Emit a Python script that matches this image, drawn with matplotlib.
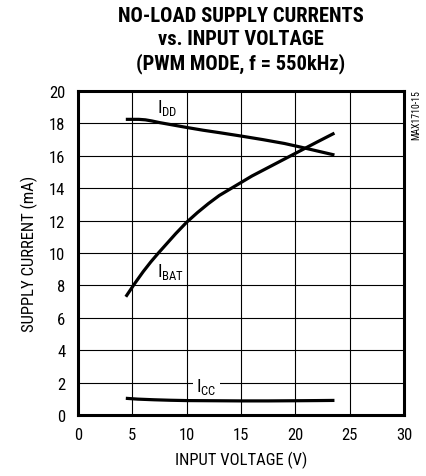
import matplotlib
matplotlib.use("Agg")
import matplotlib.pyplot as plt
from matplotlib import font_manager

# pick a condensed / narrow sans family if one is installed
fam, stretch = 'Liberation Sans', 'normal'
cands = []
for f in font_manager.fontManager.ttflist:
    n = f.name.lower()
    fn = f.fname.lower()
    st = str(f.stretch).lower()
    if 'narrow' in n or 'condensed' in n or 'condensed' in st or 'narrow' in fn or 'condensed' in fn:
        cands.append(f)
pref = ['liberation sans narrow', 'roboto condensed', 'dejavu sans']
chosen = None
for p in pref:
    for f in cands:
        if f.name.lower() == p:
            chosen = f
            break
    if chosen:
        break
if chosen is None and cands:
    chosen = cands[0]
if chosen is not None:
    fam = chosen.name
    stretch = 'condensed' if ('condensed' in str(chosen.stretch).lower() or 'condensed' in chosen.fname.lower()) else 'normal'
plt.rcParams['font.family'] = [fam, 'DejaVu Sans']
plt.rcParams['font.stretch'] = stretch

# Data
vin_idd = [4.4, 5.0, 5.6, 6.2, 6.8, 7.5, 8.5, 10, 11.5, 13, 15, 17, 19, 20.6, 22, 23.6]
idd = [18.25, 18.25, 18.25, 18.22, 18.15, 18.05, 17.93, 17.75, 17.58, 17.43, 17.22, 17.0, 16.76, 16.52, 16.3, 16.05]

vin_ibat = [4.4, 5.2, 6.0, 6.7, 7.4, 8.2, 9.0, 10, 11, 12, 13, 14, 15, 16, 17, 18, 19, 20, 21, 22, 23.6]
ibat = [7.3, 8.1, 8.85, 9.45, 10.0, 10.6, 11.2, 11.9, 12.5, 13.05, 13.55, 13.95, 14.35, 14.75, 15.1, 15.45, 15.8, 16.15, 16.5, 16.85, 17.4]

vin_icc = [4.4, 5.5, 7, 8.5, 10, 12.5, 15, 17.5, 20, 22, 23.6]
icc = [1.03, 0.98, 0.94, 0.91, 0.89, 0.88, 0.87, 0.87, 0.88, 0.89, 0.9]

xticks = [0, 5, 10, 15, 20, 25, 30]
yticks = [0, 2, 4, 6, 8, 10, 12, 14, 16, 18, 20]

fig = plt.figure(figsize=(4.27, 4.77), dpi=100)
ax = fig.add_axes([78/427, 1-416/477, (404-78)/427, (416-92)/477])

for xs, ys in ((vin_idd, idd), (vin_ibat, ibat), (vin_icc, icc)):
    ax.plot(xs, ys, color='black', lw=2.3, solid_capstyle='butt', solid_joinstyle='round', zorder=3)

ax.set_xlim(0, 30)
ax.set_ylim(0, 20)
ax.set_xticks(xticks)
ax.set_yticks(yticks)
ax.set_xticklabels([str(t) for t in xticks], fontsize=12)
ax.set_yticklabels([str(t) for t in yticks], fontsize=12)
ax.tick_params(length=0, pad=9)
ax.grid(True, color='black', lw=0.8)
ax.set_axisbelow(True)
for s in ax.spines.values():
    s.set_linewidth(2.2)

ax.set_xlabel('INPUT VOLTAGE (V)', fontsize=12, labelpad=6)
ax.set_ylabel('SUPPLY CURRENT (mA)', fontsize=12, labelpad=8)

ax.text(7.3, 19.0, r'I$_{\mathregular{DD}}$', fontsize=13, ha='left', va='center', zorder=4)
ax.text(7.3, 8.9, r'I$_{\mathregular{BAT}}$', fontsize=13, ha='left', va='center', zorder=4)
ax.text(10.9, 1.8, r'I$_{\mathregular{CC}}$', fontsize=13, ha='left', va='center', zorder=4,
        bbox=dict(facecolor='white', edgecolor='none', pad=2.5))

fig.text(416/427, 1-90/477, 'MAX1710-15', rotation=90, fontsize=7, ha='center', va='top')

title = 'NO-LOAD SUPPLY CURRENTS\nvs. INPUT VOLTAGE\n(PWM MODE, f = 550kHz)'
fig.text(241/427, 1-7/477, title, fontsize=14.8, fontweight='heavy', ha='center', va='top',
         linespacing=1.28)

fig.savefig('out.png', dpi=100)
